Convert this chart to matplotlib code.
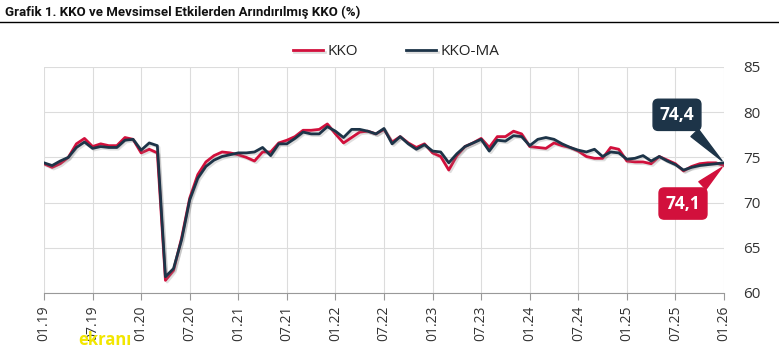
import matplotlib
matplotlib.use("Agg")
import matplotlib.pyplot as plt
import matplotlib.patheffects as pe
from matplotlib.lines import Line2D
import numpy as np

plt.rcParams['font.family'] = ['Open Sans', 'DejaVu Sans']

# Monthly data 01.2019 - 01.2026
kko = [74.3, 73.9, 74.3, 75.0, 76.5, 77.1, 76.2, 76.5, 76.3, 76.3, 77.2, 77.0,
       75.5, 75.9, 75.5, 61.4, 62.5, 66.1, 70.5, 73.1, 74.5, 75.2, 75.6, 75.5,
       75.3, 75.0, 74.6, 75.6, 75.6, 76.6, 76.9, 77.3, 78.0, 78.0, 78.1, 78.7,
       77.6, 76.6, 77.2, 77.8, 77.9, 77.6, 78.1, 76.7, 77.3, 76.6, 76.1, 76.5,
       75.5, 75.1, 73.6, 75.2, 76.2, 76.6, 77.1, 76.1, 77.3, 77.3, 77.9, 77.6,
       76.2, 76.1, 76.0, 76.6, 76.3, 76.1, 75.7, 75.1, 74.9, 74.9, 76.1, 75.9,
       74.6, 74.5, 74.5, 74.3, 75.1, 74.7, 74.3, 73.5, 74.0, 74.3, 74.4, 74.4,
       74.1]
kko_ma = [74.4, 74.1, 74.6, 75.0, 76.1, 76.7, 76.0, 76.2, 76.1, 76.1, 76.9, 77.0,
          75.8, 76.6, 76.3, 61.8, 62.7, 65.9, 70.3, 72.7, 74.0, 74.7, 75.1, 75.3,
          75.5, 75.5, 75.6, 76.1, 75.2, 76.5, 76.5, 77.1, 77.8, 77.6, 77.6, 78.4,
          77.9, 77.2, 78.1, 78.1, 77.9, 77.6, 78.2, 76.5, 77.3, 76.5, 75.9, 76.4,
          75.7, 75.6, 74.4, 75.4, 76.2, 76.6, 77.0, 75.7, 76.9, 76.8, 77.4, 77.3,
          76.3, 77.0, 77.2, 77.0, 76.5, 76.1, 75.8, 75.6, 75.9, 75.1, 75.6, 75.5,
          74.8, 74.9, 75.2, 74.6, 75.1, 74.6, 74.2, 73.6, 73.9, 74.1, 74.2, 74.3,
          74.4]
tick_labels = ["01.19", "07.19", "01.20", "07.20", "01.21", "07.21", "01.22", "07.22",
               "01.23", "07.23", "01.24", "07.24", "01.25", "07.25", "01.26"]
y_ticks = [60, 65, 70, 75, 80, 85]

RED = "#D2103C"
NAVY = "#1D3448"

fig = plt.figure(figsize=(7.79, 3.53), dpi=100)
ax = fig.add_axes([44/779, 1-293/353, 680/779, 226/353])

x = np.arange(len(kko))
shadow = [pe.SimpleLineShadow(offset=(1.2, -1.2), alpha=0.25, shadow_color='gray'), pe.Normal()]
ax.plot(x, kko, color=RED, lw=2.0, label="KKO", path_effects=shadow, zorder=3)
ax.plot(x, kko_ma, color=NAVY, lw=2.0, label="KKO-MA", path_effects=shadow, zorder=4)

ax.set_xlim(0, len(kko) - 1)
ax.set_ylim(60, 85)
ax.set_xticks(np.arange(0, len(kko), 6))
ax.set_xticklabels(tick_labels, rotation=90, fontsize=10, color="#333333")
ax.set_yticks(y_ticks)
ax.set_yticklabels([str(v) for v in y_ticks], fontsize=11, color="#333333")
ax.yaxis.tick_right()
ax.tick_params(axis='y', length=0, pad=14)
ax.tick_params(axis='x', length=5, color="#999999", width=0.8, pad=4)

ax.grid(True, color="#dcdcdc", lw=0.8)
ax.set_axisbelow(True)
for s in ['top', 'left', 'right']:
    ax.spines[s].set_visible(False)
ax.spines['bottom'].set_color("#999999")
ax.spines['bottom'].set_linewidth(0.8)

leg = ax.legend(loc='lower center', bbox_to_anchor=(0.518, 1.0), ncol=2, frameon=False,
                fontsize=11, handlelength=2.0, columnspacing=3.1, handletextpad=0.3,
                borderaxespad=0.1)
for t in leg.get_texts():
    t.set_color("#222222")

# callouts on the last values
ax.annotate(f"{kko_ma[-1]:.1f}".replace('.', ','), xy=(x[-1], kko_ma[-1]),
            xytext=(-47, 48), textcoords='offset pixels', ha='center', va='center',
            fontsize=12.5, fontweight='bold', color='white',
            bbox=dict(boxstyle='round,pad=0.38,rounding_size=0.3', fc=NAVY, ec=NAVY),
            arrowprops=dict(arrowstyle='wedge,tail_width=0.6,shrink_factor=0.5', fc=NAVY, ec=NAVY),
            zorder=6)
ax.annotate(f"{kko[-1]:.1f}".replace('.', ','), xy=(x[-1], kko[-1]),
            xytext=(-41, -38), textcoords='offset pixels', ha='center', va='center',
            fontsize=12.5, fontweight='bold', color='white',
            bbox=dict(boxstyle='round,pad=0.38,rounding_size=0.3', fc=RED, ec=RED),
            arrowprops=dict(arrowstyle='wedge,tail_width=0.6,shrink_factor=0.5', fc=RED, ec=RED),
            zorder=6)

fig.text(5/779, 1-12/353, "Grafik 1. KKO ve Mevsimsel Etkilerden Arındırılmış KKO (%)",
         fontsize=9.5, fontweight='bold', color='#111111', va='center', ha='left',
         family=['Roboto', 'DejaVu Sans'])
fig.add_artist(Line2D([0, 1], [1-22/353, 1-22/353], color='black', lw=1.0,
                      transform=fig.transFigure))

fig.text(78/779, 1-340/353, "ekranı", fontsize=12, fontweight='bold', color='#f2e600',
         va='center', ha='left')

fig.savefig("out.png", dpi=100)
